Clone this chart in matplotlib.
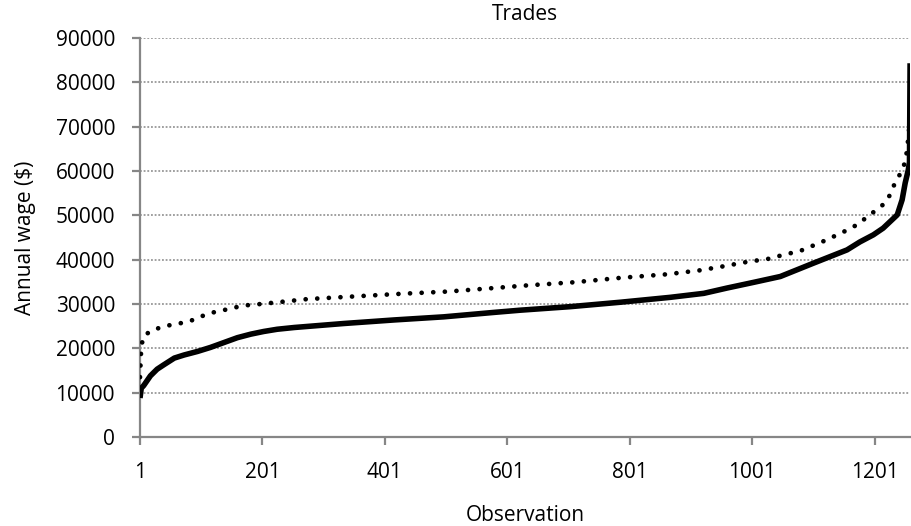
import matplotlib
matplotlib.use("Agg")
from matplotlib import pyplot as plt

# Observation numbers and annual wage values (sorted wages)
solidObs = [1, 3, 7, 18, 29, 40, 57, 73, 95, 116, 138, 160, 182, 203, 225, 253,
            334, 416, 497, 579, 622, 704, 786, 867, 922, 960, 1004, 1047, 1101,
            1156, 1177, 1199, 1215, 1238, 1246, 1251, 1256, 1258, 1259]
solidWage = [8800, 11000, 11600, 13800, 15300, 16300, 17800, 18500, 19300, 20200,
             21300, 22400, 23200, 23800, 24300, 24700, 25600, 26400, 27100, 28100,
             28600, 29400, 30400, 31500, 32400, 33600, 34900, 36200, 39200, 42200,
             44000, 45600, 47100, 50100, 53500, 57300, 60200, 62000, 84300]

dottedObs = [1, 2, 3, 6, 19, 37, 55, 73, 90, 108, 126, 144, 162, 180, 199, 274,
             350, 427, 503, 579, 634, 710, 786, 862, 916, 954, 993, 1028, 1047,
             1080, 1115, 1148, 1177, 1190, 1207, 1220, 1228, 1235, 1245, 1251,
             1254, 1256, 1259]
dottedWage = [13500, 17000, 20000, 22600, 24000, 24800, 25400, 25800, 26500, 27600,
              28300, 28800, 29400, 29800, 30000, 31100, 31700, 32300, 32800, 33600,
              34200, 34900, 35900, 36700, 37600, 38500, 39500, 40200, 40900, 42000,
              44000, 46100, 48200, 49900, 51400, 53100, 55100, 57600, 59800, 62100,
              64700, 67400, 72000]

xTicks = [1, 201, 401, 601, 801, 1001, 1201]
yTicks = [0, 10000, 20000, 30000, 40000, 50000, 60000, 70000, 80000, 90000]

plt.rcParams['font.family'] = ['Open Sans', 'DejaVu Sans']
axisGrey = '#868686'

# Set up the figure and the axis
fig = plt.figure(figsize=(9.11, 5.26), dpi=100)
fig.subplots_adjust(left=0.1537, right=0.999, bottom=0.1692, top=0.9278)
ax = fig.add_subplot(111)

ax.plot(solidObs, solidWage, color='black', linewidth=4.0,
        solid_joinstyle='round', solid_capstyle='butt', zorder=3)
ax.plot(dottedObs, dottedWage, color='black', linewidth=3.4,
        linestyle=(0, (0.01, 2.45)), dash_capstyle='round', zorder=3)

ax.set_xlim(1, 1259)
ax.set_ylim(0, 90000)
ax.set_xticks(xTicks)
ax.set_yticks(yTicks)

# Excel-like styling
ax.grid(True, axis='y', color=axisGrey, linestyle=(0, (1.2, 1.2)), linewidth=1.1)
ax.set_axisbelow(True)
for side in ['top', 'right']:
    ax.spines[side].set_visible(False)
for side in ['left', 'bottom']:
    ax.spines[side].set_color(axisGrey)
    ax.spines[side].set_linewidth(1.6)
ax.tick_params(axis='both', direction='out', length=6, width=1.6,
               color=axisGrey, labelsize=15, labelcolor='black')
ax.tick_params(axis='y', pad=12)
ax.tick_params(axis='x', pad=12)

ax.set_title("Trades", fontsize=15, pad=13)
ax.set_xlabel("Observation", fontsize=15, labelpad=16)
ax.set_ylabel("Annual wage ($)", fontsize=15, labelpad=14)

fig.savefig("out.png", dpi=100)
